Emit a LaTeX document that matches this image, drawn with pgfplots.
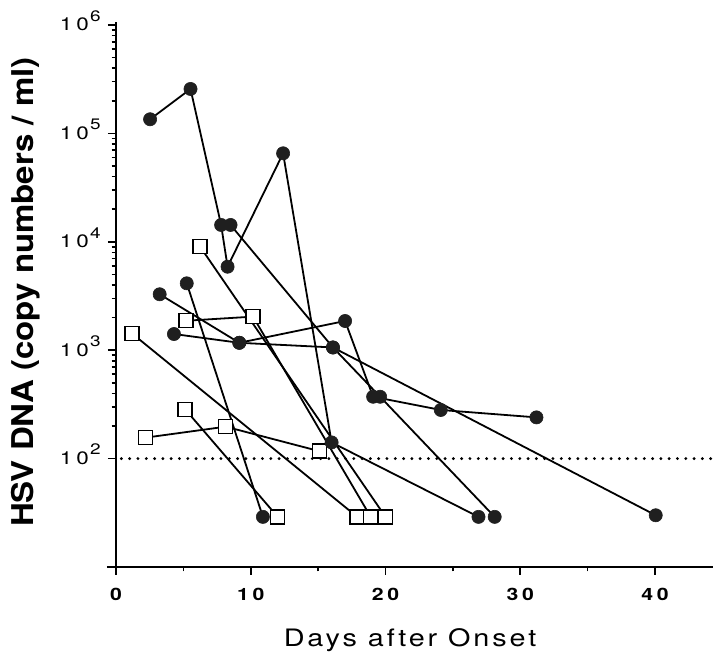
\documentclass[border=0pt]{standalone}
\usepackage{fontspec}
\setmainfont{TeX Gyre Heros}
\newfontfamily\tickfont[FakeStretch=1.25,LetterSpace=22]{TeX Gyre Heros}
\newfontfamily\xlabfont[FakeStretch=1.2,LetterSpace=12]{TeX Gyre Heros}
\newfontfamily\ylabfont[FakeStretch=1.1]{TeX Gyre Heros}
\usepackage{pgfplots}
\usepackage{pgfplotstable}
\pgfplotsset{compat=1.18}
\newcommand\ex[1]{\kern0.6pt\raisebox{4.8pt}{\fontsize{7.6}{8}\selectfont #1}}

% filled circles
\pgfplotstableread{
d v
5.25 4140
10.9 29
}\cA
\pgfplotstableread{
d v
2.53 135000
5.53 257000
7.8 14300
8.28 5890
12.4 65500
16.0 141
26.9 29
}\cB
\pgfplotstableread{
d v
8.5 14300
16.1 1060
19.6 372
28.1 29
}\cC
\pgfplotstableread{
d v
4.3 1410
9.15 1170
16.1 1060
40.05 30
}\cD
\pgfplotstableread{
d v
3.24 3280
9.15 1170
17.0 1860
19.08 372
24.1 281
31.2 240
}\cE
% open squares
\pgfplotstableread{
d v
1.18 1430
17.9 29
}\sA
\pgfplotstableread{
d v
2.18 156
8.14 197
15.1 117
}\sB
\pgfplotstableread{
d v
5.13 285
12.0 29
}\sC
\pgfplotstableread{
d v
5.2 1870
10.17 2040
18.9 29
}\sD
\pgfplotstableread{
d v
6.24 9020
20.0 29
}\sE

\pgfplotsset{
  ln/.style={black, line width=0.9pt, mark=none},
  dot/.style={only marks, mark=*, mark size=3.3pt, mark options={fill=black!88, draw=black!88, line width=0.3pt}},
  sq/.style={only marks, mark=square*, mark size=3.5pt, mark options={fill=white, draw=black, line width=0.75pt}},
}

\begin{document}
\begin{tikzpicture}
\begin{axis}[
  name=ax,
  scale only axis,
  width=298.5pt, height=271pt,
  xmin=0, xmax=44.3,
  ymode=log, ymin=10, ymax=1e6,
  axis x line=bottom, axis y line=left,
  axis line style={-, line width=0.9pt, black},
  x axis line style={shorten <=-4.5pt},
  y axis line style={shorten <=-2.5pt, shorten >=-1.5pt},
  xtick={0,10,20,30,40},
  xticklabels={0,10,20,30,40},
  minor xtick={5,15,25,35},
  ytick={100,1000,10000,100000,1000000},
  yticklabels={{10\ex{2}},{10\ex{3}},{10\ex{4}},{10\ex{5}},{10\ex{6}}},
  minor ytick={200,300,400,500,600,700,800,900,2000,3000,4000,5000,6000,7000,8000,9000,20000,30000,40000,50000,60000,70000,80000,90000,200000,300000,400000,500000,600000,700000,800000,900000},
  tick align=outside,
  major tick length=4pt, minor tick length=2.2pt,
  every tick/.style={black, line width=0.8pt},
  xticklabel style={font=\fontsize{8.5}{10}\tickfont\bfseries, anchor=base, inner sep=0pt, yshift=-13pt},
  yticklabel style={font=\fontsize{9}{10}\tickfont, anchor=base east, inner sep=0pt, xshift=-3.5pt, yshift=-3pt},
  xlabel={\xlabfont Days after Onset},
  ylabel={\ylabfont\bfseries HSV DNA (copy numbers / ml)},
  xlabel style={font=\fontsize{12}{14}\selectfont, at={(axis description cs:0.4925,0)}, anchor=base, yshift=-40pt},
  ylabel style={font=\fontsize{15}{17}\selectfont, at={(axis description cs:-0.139,0.507)}, anchor=base},
  clip=false,
]
\addplot[line width=1.6pt, dash pattern=on 0pt off 4.15pt, line cap=round, black] coordinates {(0.4,100) (44.2,100)};

\addplot[ln] table[x=d,y=v]{\cA};
\addplot[ln] table[x=d,y=v]{\cB};
\addplot[ln] table[x=d,y=v]{\cC};
\addplot[ln] table[x=d,y=v]{\cD};
\addplot[ln] table[x=d,y=v]{\cE};
\addplot[ln] table[x=d,y=v]{\sA};
\addplot[ln] table[x=d,y=v]{\sB};
\addplot[ln] table[x=d,y=v]{\sC};
\addplot[ln] table[x=d,y=v]{\sD};
\addplot[ln] table[x=d,y=v]{\sE};

\addplot[sq] table[x=d,y=v]{\sA};
\addplot[sq] table[x=d,y=v]{\sB};
\addplot[sq] table[x=d,y=v]{\sC};
\addplot[sq] table[x=d,y=v]{\sD};
\addplot[sq] table[x=d,y=v]{\sE};

\addplot[dot] table[x=d,y=v]{\cA};
\addplot[dot] table[x=d,y=v]{\cB};
\addplot[dot] table[x=d,y=v]{\cC};
\addplot[dot] table[x=d,y=v]{\cD};
\addplot[dot] table[x=d,y=v]{\cE};
\end{axis}
\path (ax.south west) ++(-58pt,-43.5pt) rectangle ++(357pt,327pt);
\end{tikzpicture}
\end{document}
